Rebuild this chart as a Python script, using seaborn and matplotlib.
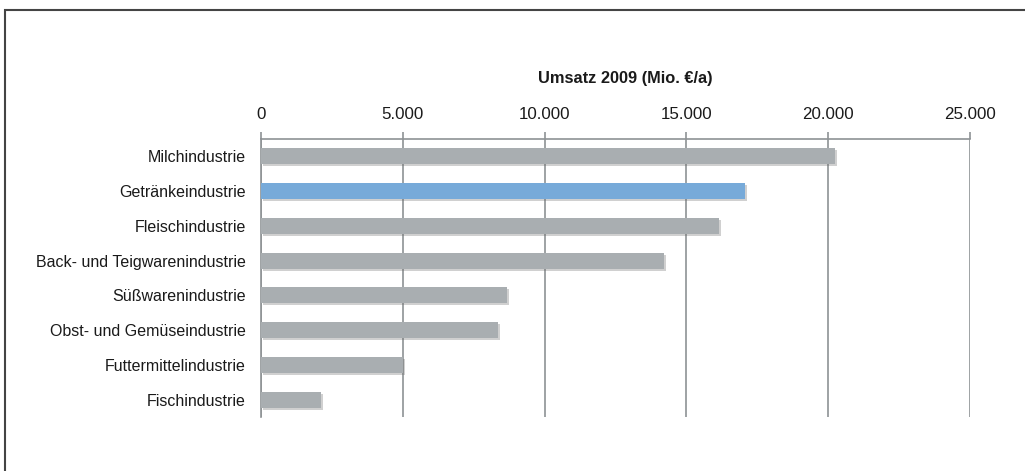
import numpy as np
import pandas as pd
import matplotlib
matplotlib.use("Agg")
import matplotlib.pyplot as plt
import matplotlib.patheffects as pe
from matplotlib.ticker import FuncFormatter
import seaborn as sns

branchen = ["Milchindustrie", "Getränkeindustrie", "Fleischindustrie",
            "Back- und Teigwarenindustrie", "Süßwarenindustrie",
            "Obst- und Gemüseindustrie", "Futtermittelindustrie", "Fischindustrie"]
umsatz = [20250, 17080, 16160, 14200, 8660, 8350, 5000, 2100]
highlight = ["Getränkeindustrie"]

df = pd.DataFrame({"branche": branchen, "umsatz": umsatz})
df["farbe"] = np.where(df["branche"].isin(highlight), "hi", "lo")

sns.set_style("white")
plt.rcParams["font.family"] = ["Liberation Sans", "DejaVu Sans"]

fig = plt.figure(figsize=(10.25, 4.71), dpi=100)
ax = fig.add_axes([0.2546, 0.1146, 0.6917, 0.5903])

sns.barplot(data=df, x="umsatz", y="branche", hue="farbe",
            palette={"hi": "#77AAD9", "lo": "#A9AEB1"}, saturation=1,
            dodge=False, width=0.46, legend=False, linewidth=0, ax=ax, zorder=3)

for bar in ax.patches:
    bar.set_path_effects([pe.SimplePatchShadow(offset=(1.5, -1.5), alpha=0.3, shadow_rgbFace="#666666"),
                          pe.Normal()])

ax.set_xlim(0, 25000)
ax.set_ylim(len(branchen) - 0.5, -0.5)
ax.set_xticks(np.arange(0, 25001, 5000))
ax.xaxis.set_major_formatter(FuncFormatter(lambda v, p: "0" if v == 0 else f"{int(v):,}".replace(",", ".")))
ax.xaxis.tick_top()
ax.grid(axis="x", color="#8E9295", linewidth=1.2, zorder=0)
ax.set_axisbelow(True)

# ticks between categories on the y axis
ax.set_yticks(np.arange(len(branchen)))
ax.set_yticks(np.arange(len(branchen) + 1) - 0.5, minor=True)
ax.tick_params(axis="y", which="major", length=0, pad=11, labelsize=11.5, colors="#1a1a1a")
ax.tick_params(axis="y", which="minor", length=5, width=1.2, color="#8E9295", direction="out")
ax.tick_params(axis="x", which="major", length=5, width=1.2, color="#8E9295", direction="out",
               pad=7, labelsize=12.2, labelcolor="#1a1a1a")

for s in ["right", "bottom"]:
    ax.spines[s].set_visible(False)
for s in ["left", "top"]:
    ax.spines[s].set_color("#8E9295")
    ax.spines[s].set_linewidth(1.2)

ax.set_xlabel("")
ax.set_ylabel("")
ax.text(0.514, 1.219, "Umsatz 2009 (Mio. €/a)", transform=ax.transAxes,
        ha="center", va="center", fontsize=11.8, fontweight="bold", color="#1a1a1a")

# outer frame (only left and top visible)
frame = plt.Rectangle((0.005, -0.1), 1.2, 1.078, transform=fig.transFigure,
                      fill=False, edgecolor="#444444", linewidth=1.5)
fig.patches.append(frame)

fig.savefig("out.png", dpi=100)
